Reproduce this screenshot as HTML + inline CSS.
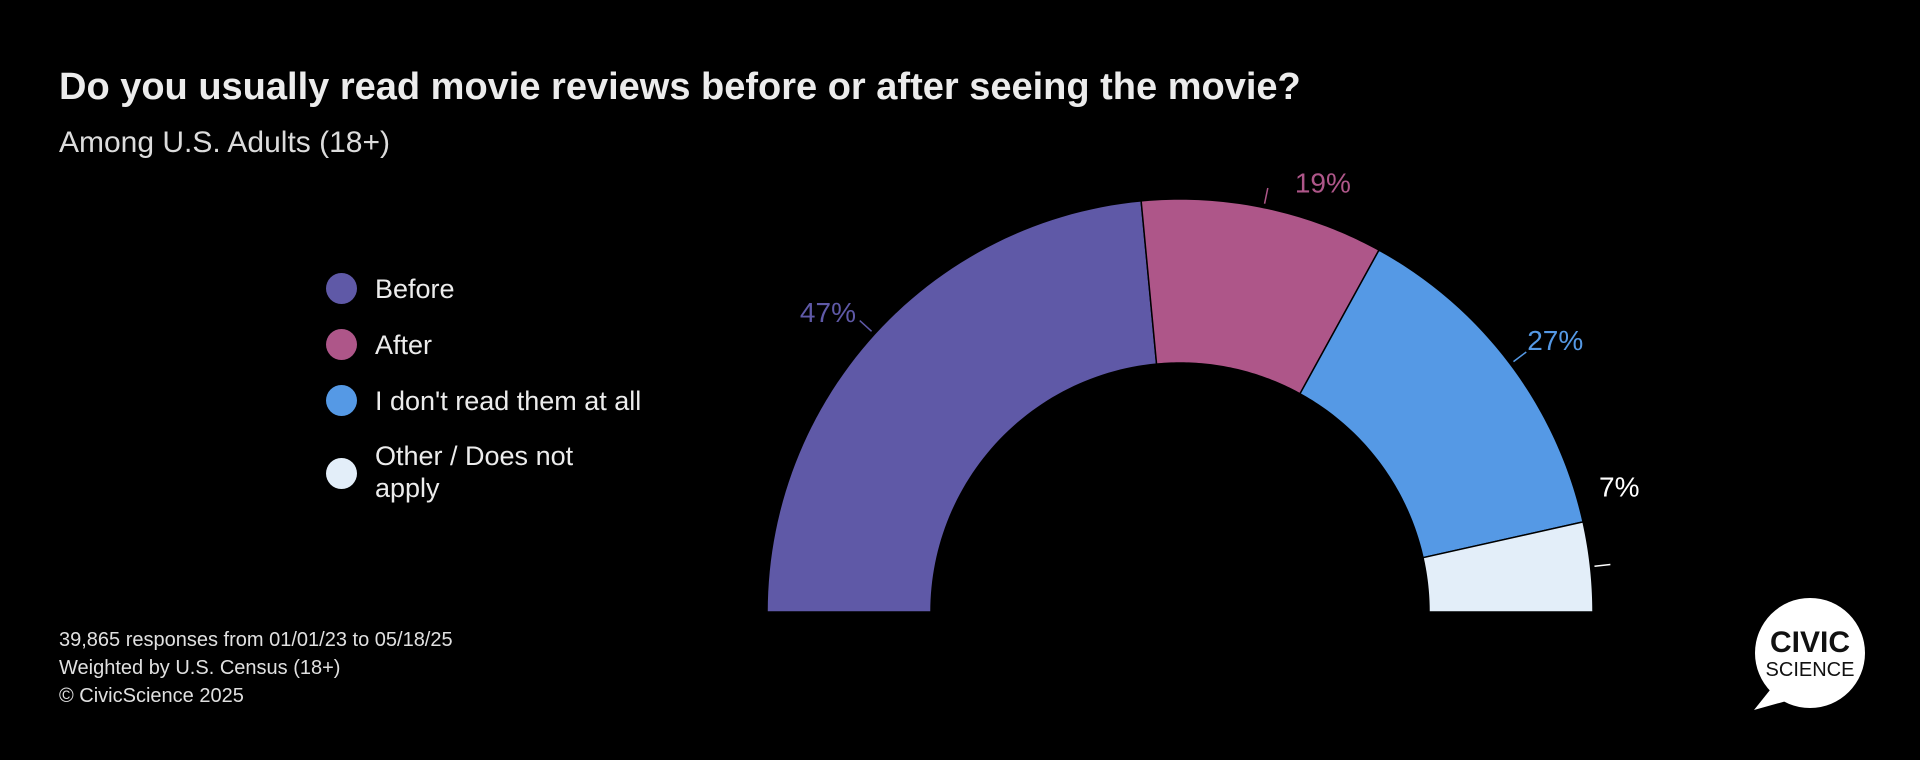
<!DOCTYPE html>
<html><head><meta charset="utf-8"><style>
html,body{margin:0;padding:0;background:#000;}
body{width:1920px;height:760px;overflow:hidden;position:relative;font-family:"Liberation Sans",sans-serif;color:#e8e8e8;}
#t{position:absolute;left:59px;top:66px;font-size:38px;font-weight:bold;color:#ececec;}
#s{position:absolute;left:59px;top:126px;font-size:30px;color:#dcdcdc;}
.leg{position:absolute;left:326px;font-size:27px;color:#ececec;}
.dot{position:absolute;left:0;width:31px;height:31px;border-radius:50%;}
.lt{position:absolute;left:49px;white-space:nowrap;line-height:32px;}
#foot{position:absolute;left:59px;top:626px;font-size:20px;line-height:28px;color:#e0e0e0;}
</style></head><body>
<div id="t">Do you usually read movie reviews before or after seeing the movie?</div>
<div id="s">Among U.S. Adults (18+)</div>
<div class="leg" style="top:273px"><div class="dot" style="background:#5f59a7"></div><div class="lt" style="top:0">Before</div></div>
<div class="leg" style="top:329px"><div class="dot" style="background:#ae5689"></div><div class="lt" style="top:0">After</div></div>
<div class="leg" style="top:385px"><div class="dot" style="background:#5599e5"></div><div class="lt" style="top:0">I don't read them at all</div></div>
<div class="leg" style="top:458px"><div class="dot" style="background:#e3eef9"></div><div class="lt" style="top:-18px">Other / Does not<br>apply</div></div>
<div id="foot">39,865 responses from 01/01/23 to 05/18/25<br>Weighted by U.S. Census (18+)<br>© CivicScience 2025</div>
<svg id="chart" width="1920" height="760" style="position:absolute;left:0;top:0"></svg>
<svg width="1920" height="760" style="position:absolute;left:0;top:0;pointer-events:none">
<path d="M1770,690 L1754,710 L1790,700 Z" fill="#fff"/>
<circle cx="1810" cy="653" r="55" fill="#fff"/>
<text x="1810" y="652" text-anchor="middle" font-size="30" font-weight="bold" fill="#111" font-family="Liberation Sans">CIVIC</text>
<text x="1810" y="676" text-anchor="middle" font-size="20" fill="#111" font-family="Liberation Sans">SCIENCE</text>
</svg>
<script>
const categories=["Before","After","I don't read them at all","Other / Does not apply"];
const values=[47,19,27,7];
const labels=["47%","19%","27%","7%"];
const colors=["#5f59a7","#ae5689","#5599e5","#e3eef9"];
const labelDx=[-17,51,13,-11];
const labelDy=[5,14,0,-76];
const cx=1180,cy=612,rO=413,rI=249;
const svg=document.getElementById('chart');
const NS='http://www.w3.org/2000/svg';
const total=values.reduce((a,b)=>a+b,0);
function pt(a,r){return [cx-r*Math.cos(a),cy-r*Math.sin(a)];}
let acc=0;
values.forEach((v,i)=>{
  const a0=acc/total*Math.PI, a1=(acc+v)/total*Math.PI; acc+=v;
  const p=document.createElementNS(NS,'path');
  let d='';const n=60;
  for(let k=0;k<=n;k++){const q=pt(a0+(a1-a0)*k/n,rO);d+=(k?'L':'M')+q[0].toFixed(2)+','+q[1].toFixed(2);}
  for(let k=n;k>=0;k--){const q=pt(a0+(a1-a0)*k/n,rI);d+='L'+q[0].toFixed(2)+','+q[1].toFixed(2);}
  p.setAttribute('d',d+'Z');p.setAttribute('fill',colors[i]);p.setAttribute('stroke','#000');p.setAttribute('stroke-width','1.5');
  
  
  svg.appendChild(p);
  const am=(a0+a1)/2;
  const o=pt(am,rO+4), e=pt(am,rO+20);
  const ln=document.createElementNS(NS,'line');
  ln.setAttribute('x1',o[0]);ln.setAttribute('y1',o[1]);ln.setAttribute('x2',e[0]);ln.setAttribute('y2',e[1]);
  ln.setAttribute('stroke',i==3?'#fff':colors[i]);ln.setAttribute('stroke-width','1.5');
  
  
  svg.appendChild(ln);
  const lp=pt(am,rO+40);
  const t=document.createElementNS(NS,'text');
  t.setAttribute('x',lp[0]+labelDx[i]);t.setAttribute('y',lp[1]+labelDy[i]+10);
  t.setAttribute('text-anchor','middle');
  t.setAttribute('font-size','28');t.setAttribute('font-family','Liberation Sans');
  t.setAttribute('fill',i==3?'#fff':colors[i]);
  t.textContent=labels[i];
  
  
  svg.appendChild(t);
});
</script>
</body></html>
